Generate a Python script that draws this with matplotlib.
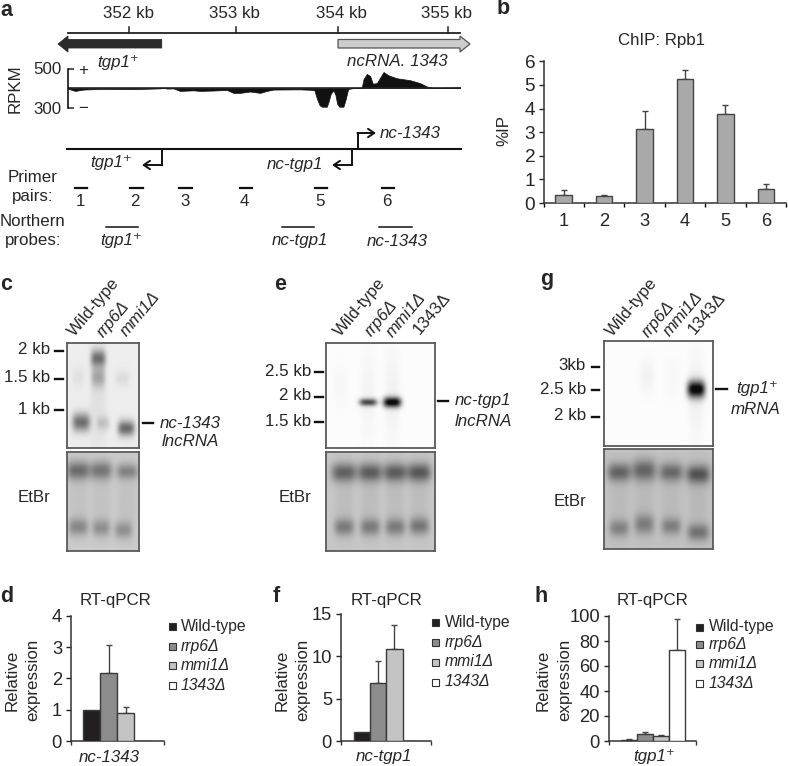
import numpy as np
import matplotlib
matplotlib.use("Agg")
import matplotlib.pyplot as plt
from matplotlib.patches import Polygon, Rectangle

W, H = 788, 766
TXT = "#262626"
FS = 12.2
LEGEND_FS = 11.3

plt.rcParams["font.family"] = ["Liberation Sans", "DejaVu Sans"]

# panel a: strand specific RNA-seq profile
track_kb = [351.431, 351.494, 351.572, 351.730, 352.044, 352.296, 352.327, 352.358, 352.421, 352.484,
            352.610, 352.673, 352.799, 352.925, 352.987, 353.050, 353.145, 353.239, 353.302, 353.365,
            353.616, 353.750, 353.775, 353.800, 353.821, 353.868, 353.885, 353.905, 353.931, 353.950, 353.965,
            353.985, 354.025, 354.045, 354.065, 354.072, 354.119, 354.198, 354.214, 354.245, 354.277, 354.302,
            354.340, 354.403, 354.450, 354.528, 354.591, 354.654, 354.748, 354.811, 354.874, 355.126]
track_rpkm = [396, 385, 392, 395, 394, 398, 402, 397, 398, 385,
              388, 385, 387, 390, 375, 375, 382, 375, 385, 392,
              393, 390, 345, 312, 304, 304, 330, 370, 388, 365, 320,
              304, 304, 340, 385, 395, 400, 402, 445, 472, 462, 422,
              425, 482, 465, 450, 445, 440, 425, 408, 400, 403]
ruler_labels = ["352 kb", "353 kb", "354 kb", "355 kb"]
primer_labels = ["1", "2", "3", "4", "5", "6"]

# panel b
chip_values = [0.32, 0.30, 3.15, 5.25, 3.75, 0.58]
chip_tops = [0.55, 0.33, 3.90, 5.63, 4.15, 0.80]

# panels d, f, h
strains = ["Wild-type", "rrp6Δ", "mmi1Δ", "1343Δ"]
strain_colors = ["#231f20", "#8c8c8c", "#c4c4c4", "#ffffff"]
d_values = [1.0, 2.17, 0.9, 0.0]
d_tops = [1.0, 3.05, 1.07, 0.0]
f_values = [1.05, 6.8, 10.9, 0.0]
f_tops = [1.05, 9.4, 13.7, 0.0]
h_values = [1.0, 6.0, 4.0, 73.0]
h_tops = [1.3, 7.3, 5.2, 98.0]

# blot bands: x, y, half width x, sigma y, darkness (picture pixels)
c_bands = [(81, 422, 9, 6.5, .50), (98, 358, 7.5, 6, .47), (98, 377, 7, 7, .25), (103, 423, 6.5, 5, .14),
           (126, 428, 8.5, 5.5, .52), (78, 377, 6, 7, .05), (122, 378, 7, 5, .07), (98, 400, 8, 40, .05)]
c_etbr = [(78, 471, 12, 6.5, .36), (101, 471, 11, 6.5, .32), (127, 472, 11, 5.5, .27),
          (78, 527, 10, 6, .25), (101, 528, 9, 6, .22), (123, 530, 9, 6, .22),
          (78, 500, 10, 25, .04), (101, 500, 10, 25, .04), (127, 500, 10, 25, .04)]
e_bands = [(368, 402, 9, 2.6, .68), (392, 402, 9, 3.6, .98), (368, 395, 7, 30, .03), (392, 395, 7, 30, .04),
           (340, 385, 6, 12, .02)]
e_etbr = [(344, 473, 13, 6.5, .38), (370, 473, 12, 6.5, .40), (395, 473, 12, 6.5, .40), (419, 473, 12, 6.5, .42),
          (344, 527, 10, 6, .28), (370, 527, 10, 6, .28), (395, 527, 10, 6, .28), (419, 526, 10, 6, .30),
          (344, 500, 9, 25, .04), (370, 500, 9, 25, .04), (395, 500, 9, 25, .04), (419, 500, 9, 25, .04)]
g_bands = [(696, 389, 9, 6, 1.0), (696, 395, 7, 30, .04), (647, 376, 7, 10, .04), (672, 376, 7, 12, .015)]
g_etbr = [(619, 472, 12, 6.5, .36), (644, 470, 12, 7.5, .36), (671, 472, 12, 6.5, .34), (698, 474, 12, 6.5, .42),
          (619, 528, 10, 6, .24), (644, 524, 10, 7, .26), (671, 526, 10, 6, .25), (698, 532, 11, 6, .30),
          (619, 500, 9, 25, .03), (644, 500, 9, 25, .03), (671, 500, 9, 25, .03), (698, 500, 9, 25, .04)]


def px_axes(fig, x0, y0, x1, y1):
    return fig.add_axes([x0 / W, 1 - y1 / H, (x1 - x0) / W, (y1 - y0) / H])


def draw_blot(fig, box, bands, bg):
    x0, y0, x1, y1 = box
    ax = px_axes(fig, x0, y0, x1, y1)
    xx, yy = np.meshgrid(np.arange(x0, x1, 0.5), np.arange(y0, y1, 0.5))
    dark = np.zeros_like(xx, dtype=float)
    for bx, by, sx, sy, amp in bands:
        dark += amp * np.exp(-(np.abs(xx - bx) / sx) ** 3.5 - ((yy - by) / sy) ** 2 / 2)
    ax.imshow(np.clip(bg - dark, 0.05, 1), cmap="gray", vmin=0, vmax=1, aspect="auto", interpolation="bilinear")
    ax.set_xticks([])
    ax.set_yticks([])
    for s in ax.spines.values():
        s.set_color("#5a5a5a")
        s.set_linewidth(1.3)
    return ax


def draw_rt_bars(fig, box, values, tops, ymax, yticks, bar_start, bar_w):
    x0, y0, x1, y1 = box
    ax = px_axes(fig, x0, y0, x1, y1)
    ax.set_xlim(x0, x1)
    ax.set_ylim(0, ymax)
    xs = [bar_start + bar_w * (i + 0.5) for i in range(4)]
    ax.bar(xs, values, width=bar_w, color=strain_colors, edgecolor="#3a3a3a", linewidth=1.0, zorder=3)
    for x, v, t in zip(xs, values, tops):
        if t > v:
            ax.errorbar(x, v, yerr=[[0], [t - v]], color="#444444", elinewidth=1.0, capsize=2, capthick=1.0, zorder=2)
    for s in ("top", "right"):
        ax.spines[s].set_visible(False)
    for s in ("left", "bottom"):
        ax.spines[s].set_linewidth(1.1)
        ax.spines[s].set_color("#333333")
    ax.set_xticks([x0, x1])
    ax.set_xticklabels([])
    ax.set_yticks(yticks)
    ax.tick_params(axis="y", labelsize=FS + 1, length=3.5, width=1.0, pad=3, colors=TXT)
    ax.tick_params(axis="x", length=3, width=1.0, color="#333333")
    ax.patch.set_alpha(0)
    return ax


def label(canvas, x, y, s, ha="center", style="normal", size=FS, rot=0, weight="normal", va="center"):
    canvas.text(x, y, s, ha=ha, va=va, fontstyle=style, fontsize=size, rotation=rot, color=TXT,
                fontweight=weight, rotation_mode="anchor")


def main():
    fig = plt.figure(figsize=(W / 100, H / 100), dpi=100, facecolor="white")
    canvas = fig.add_axes([0, 0, 1, 1], zorder=5)
    canvas.set_xlim(0, W)
    canvas.set_ylim(H, 0)
    canvas.axis("off")

    # --- panel letters
    for x, y, s in [(0, 10, "a"), (497, 9, "b"), (0, 285, "c"), (0, 597, "d"),
                    (274, 285, "e"), (273, 597, "f"), (540, 280, "g"), (535, 597, "h")]:
        label(canvas, x, y, s, ha="left", size=15.5, weight="bold")

    # --- a: ruler and gene arrows
    canvas.plot([68, 460], [33, 33], color="#222222", lw=1.3)
    for x, lx, s in zip([128.7, 235.7, 338.3, 448.3], [129, 234, 341, 447], ruler_labels):
        canvas.plot([x, x], [27, 33], color="#222222", lw=1.1)
        label(canvas, lx, 13, s)
    canvas.add_patch(Polygon([(58, 44), (68, 36), (68, 39.5), (161.7, 39.5), (161.7, 48), (68, 48), (68, 52)],
                             closed=True, fc="#2b2b2b", ec="#2b2b2b", lw=0.6))
    canvas.add_patch(Polygon([(338, 39.5), (460, 39.5), (460, 36), (470, 44), (460, 52), (460, 48), (338, 48)],
                             closed=True, fc="#cdcdcd", ec="#555555", lw=0.9))
    label(canvas, 118, 62, "tgp1⁺", style="italic")
    label(canvas, 397, 62, "ncRNA. 1343", style="italic")

    # --- a: RNA-seq track
    ax = px_axes(fig, 68, 68.5, 461, 107.5)
    ax.set_xlim(351.427, 355.134)
    ax.set_ylim(300, 500)
    ax.fill_between(track_kb, track_rpkm, 400, color="#111111", lw=0.5)
    ax.axhline(400, color="#222222", lw=1.2)
    for s in ("top", "right", "bottom"):
        ax.spines[s].set_visible(False)
    ax.spines["left"].set_linewidth(1.1)
    ax.set_xticks([])
    ax.set_yticks([300, 500])
    ax.tick_params(axis="y", direction="in", length=4, width=1.1, labelsize=FS, pad=5, colors=TXT)
    ax.patch.set_alpha(0)
    label(canvas, 15, 89, "RPKM", rot=90)
    label(canvas, 83, 70, "+")
    label(canvas, 83, 108, "−")

    # --- a: gene model
    canvas.plot([67, 461], [148.5, 148.5], color="#111111", lw=1.5)
    arrow = dict(arrowstyle="->,head_length=0.45,head_width=0.3", color="#111111", lw=1.4, shrinkA=0, shrinkB=0)
    canvas.plot([161.7, 161.7], [148.5, 165], color="#111111", lw=1.4)
    canvas.annotate("", xy=(142, 165), xytext=(162.3, 165), arrowprops=arrow)
    canvas.plot([351.7, 351.7], [148.5, 165], color="#111111", lw=1.4)
    canvas.annotate("", xy=(332, 165), xytext=(352.3, 165), arrowprops=arrow)
    canvas.plot([358, 358], [148.5, 133], color="#111111", lw=1.4)
    canvas.annotate("", xy=(376, 133), xytext=(357.4, 133), arrowprops=arrow)
    label(canvas, 132, 163, "tgp1⁺", ha="right", style="italic")
    label(canvas, 323, 165, "nc-tgp1", ha="right", style="italic")
    label(canvas, 380, 134, "nc-1343", ha="left", style="italic")

    # --- a: primers and probes
    label(canvas, 33, 177, "Primer")
    label(canvas, 33, 197, "pairs:")
    label(canvas, 33, 221, "Northern")
    label(canvas, 33, 241, "probes:")
    for x0, x1, lx, s in zip([75, 130, 179, 240, 315, 382], [87, 143, 192, 252, 327, 394],
                             [80, 135, 185, 244, 320, 387], primer_labels):
        canvas.plot([x0, x1], [188, 188], color="#111111", lw=1.6)
        label(canvas, lx, 201, s)
    for x0, x1 in [(106, 138), (282, 314), (379, 412)]:
        canvas.plot([x0, x1], [227, 227], color="#111111", lw=1.1)
    label(canvas, 121, 241, "tgp1⁺", style="italic")
    label(canvas, 300, 241, "nc-tgp1", style="italic")
    label(canvas, 397, 241, "nc-1343", style="italic")

    # --- b: ChIP
    ax = px_axes(fig, 543.5, 61.3, 786, 203)
    ax.set_xlim(0, 6)
    ax.set_ylim(0, 6)
    xs = np.arange(6) + 0.5
    ax.bar(xs, chip_values, width=0.41, color="#a9a9a9", edgecolor="#444444", linewidth=1.0, zorder=3)
    yerr = [np.zeros(6), np.array(chip_tops) - np.array(chip_values)]
    ax.errorbar(xs, chip_values, yerr=yerr, fmt="none", ecolor="#444444", elinewidth=1.0, capsize=2.2, capthick=1.0, zorder=2)
    for s in ("top", "right"):
        ax.spines[s].set_visible(False)
    for s in ("left", "bottom"):
        ax.spines[s].set_linewidth(1.1)
        ax.spines[s].set_color("#333333")
    ax.set_xticks(np.arange(7))
    ax.set_xticklabels([])
    ax.set_xticks(xs, minor=True)
    ax.set_xticklabels(primer_labels, minor=True)
    ax.set_yticks(np.arange(7))
    ax.tick_params(axis="x", which="minor", length=0, labelsize=FS + 1, pad=7, colors=TXT)
    ax.tick_params(axis="x", which="major", length=3, width=1.0)
    ax.tick_params(axis="y", length=3.5, width=1.0, labelsize=FS + 1.5, pad=2.5, colors=TXT)
    ax.patch.set_alpha(0)
    label(canvas, 662, 41, "ChIP: Rpb1")
    label(canvas, 504, 130, "%IP", rot=90)

    # --- c, e, g: northern blots
    draw_blot(fig, (67, 343, 139, 448), c_bands, 0.93)
    draw_blot(fig, (67, 452, 139, 551), c_etbr, 0.80)
    draw_blot(fig, (326, 343, 435, 448), e_bands, 0.985)
    draw_blot(fig, (326, 452, 435, 551), e_etbr, 0.78)
    draw_blot(fig, (604, 341, 713, 446), g_bands, 0.985)
    draw_blot(fig, (604, 449, 713, 549), g_etbr, 0.76)

    lanes = [("Wild-type", "normal"), ("rrp6Δ", "italic"), ("mmi1Δ", "italic"), ("1343Δ", "normal")]
    for starts in ([(75, 337), (103, 338), (127, 337)],
                   [(341, 337), (371, 337), (393, 338), (420, 335)],
                   [(613, 337), (648, 338), (670, 337), (695, 335)]):
        for (x, y), (s, st) in zip(starts, lanes):
            label(canvas, x, y, s, ha="left", style=st, rot=50, va="baseline")

    for right, tx0, tx1, marks in [(50, 55, 63, [(351, "2 kb"), (379, "1.5 kb"), (410, "1 kb")]),
                                   (311, 315, 323, [(372, "2.5 kb"), (397, "2 kb"), (422, "1.5 kb")]),
                                   (586, 592, 599, [(367, "3kb"), (390, "2.5 kb"), (417, "2 kb")])]:
        for y, s in marks:
            canvas.plot([tx0, tx1], [y, y], color="#111111", lw=1.7)
            label(canvas, right, y - 1, s, ha="right")

    canvas.plot([143, 153], [423, 423], color="#111111", lw=1.7)
    label(canvas, 160, 423, "nc-1343", ha="left", style="italic")
    label(canvas, 162, 442, "lncRNA", ha="left", style="italic")
    canvas.plot([438, 448], [401, 401], color="#111111", lw=1.7)
    label(canvas, 455, 401, "nc-tgp1", ha="left", style="italic")
    label(canvas, 455, 421, "lncRNA", ha="left", style="italic")
    canvas.plot([716, 727], [389, 389], color="#111111", lw=1.7)
    label(canvas, 736, 389, "tgp1⁺", ha="left", style="italic")
    label(canvas, 731, 410, "mRNA", ha="left", style="italic")
    label(canvas, 50, 497, "EtBr", ha="right")
    label(canvas, 311, 497, "EtBr", ha="right")
    label(canvas, 586, 502, "EtBr", ha="right")

    # --- d, f, h: RT-qPCR bars
    draw_rt_bars(fig, (71, 615.7, 164, 741), d_values, d_tops, 4, [0, 1, 2, 3, 4], 83.3, 17)
    draw_rt_bars(fig, (341, 614, 431, 741), f_values, f_tops, 15, [0, 5, 10, 15], 354, 16.2)
    draw_rt_bars(fig, (609, 616, 696, 741), h_values, h_tops, 100, [0, 20, 40, 60, 80, 100], 621, 16)

    panels = [(116, 12, 33, 109, "nc-1343", 169, 181, [626, 646, 665, 685]),
              (387, 282, 303, 384, "nc-tgp1", 432, 445, [622, 642, 662, 682]),
              (653, 543, 565, 654, "tgp1⁺", 696, 709, [627, 644, 663, 683])]
    for tx, r1, r2, cx, cat, lx, ltx, lys in panels:
        label(canvas, tx, 600, "RT-qPCR")
        label(canvas, r1, 680, "Relative", rot=90)
        label(canvas, r2, 680, "expression", rot=90)
        label(canvas, cx, 757, cat, style="italic")
        for y, s, c, st in zip(lys, strains, strain_colors, ["normal", "italic", "italic", "italic"]):
            canvas.add_patch(Rectangle((lx, y - 3.5), 7, 7, fc=c, ec="#333333", lw=0.8))
            label(canvas, ltx, y, s, ha="left", style=st, size=LEGEND_FS)

    fig.savefig("out.png", dpi=100)
    plt.close(fig)


if __name__ == "__main__":
    main()
